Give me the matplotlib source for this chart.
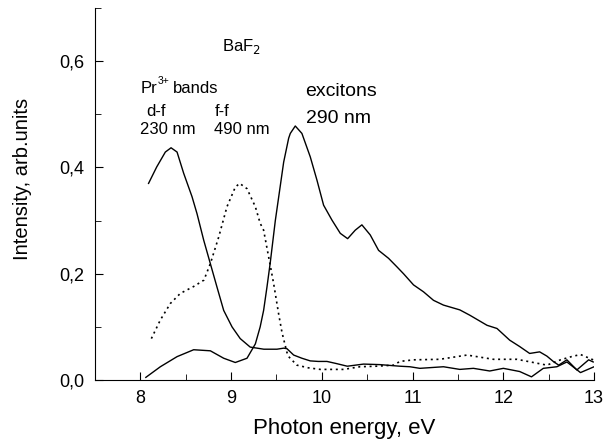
import matplotlib
matplotlib.use("Agg")
import matplotlib.pyplot as plt
from matplotlib.ticker import MultipleLocator, FuncFormatter

plt.rcParams['font.family'] = ['Liberation Sans', 'DejaVu Sans']

# d-f emission of Pr3+ (230 nm), solid
df_x = [8.09, 8.18, 8.275, 8.338, 8.404, 8.477, 8.569, 8.624, 8.698, 8.771, 8.844,
        8.918, 9.01, 9.10, 9.21, 9.36, 9.505, 9.58, 9.615, 9.689, 9.78, 9.872,
        9.96, 10.056, 10.16, 10.28, 10.37, 10.46, 10.64, 10.86, 10.97, 11.08, 11.34,
        11.52, 11.67, 11.85, 12.0, 12.18, 12.31, 12.44, 12.59, 12.70, 12.85, 13.0]
df_y = [0.370, 0.401, 0.429, 0.437, 0.429, 0.389, 0.345, 0.313, 0.263, 0.219, 0.175,
        0.131, 0.100, 0.078, 0.062, 0.058, 0.058, 0.060, 0.059, 0.047, 0.041, 0.036,
        0.035, 0.035, 0.031, 0.026, 0.028, 0.030, 0.029, 0.026, 0.025, 0.022, 0.025,
        0.020, 0.022, 0.017, 0.022, 0.016, 0.006, 0.022, 0.025, 0.034, 0.014, 0.025]

# f-f emission of Pr3+ (490 nm), dotted
ff_x = [8.121, 8.22, 8.33, 8.44, 8.587, 8.70, 8.771, 8.863, 8.954, 9.046, 9.094,
        9.175, 9.267, 9.32, 9.358, 9.413, 9.468, 9.523, 9.56, 9.58, 9.615, 9.634,
        9.725, 9.85, 9.982, 10.24, 10.42, 10.60, 10.79, 10.86, 11.01, 11.30, 11.60,
        11.89, 12.15, 12.33, 12.48, 12.63, 12.75, 12.85, 12.99]
ff_y = [0.078, 0.113, 0.144, 0.163, 0.176, 0.188, 0.219, 0.269, 0.326, 0.363, 0.370,
        0.360, 0.326, 0.295, 0.282, 0.232, 0.182, 0.125, 0.090, 0.076, 0.052, 0.044,
        0.028, 0.023, 0.020, 0.020, 0.025, 0.026, 0.028, 0.035, 0.038, 0.039, 0.047,
        0.039, 0.039, 0.033, 0.028, 0.038, 0.044, 0.048, 0.038]

# exciton emission (290 nm), solid
ex_x = [8.06, 8.22, 8.404, 8.587, 8.771, 8.918, 9.046, 9.175, 9.267, 9.32, 9.358,
        9.395, 9.432, 9.487, 9.579, 9.634, 9.652, 9.707, 9.780, 9.872, 9.946,
        10.019, 10.111, 10.203, 10.284, 10.368, 10.441, 10.533, 10.625, 10.735,
        10.827, 10.90, 11.01, 11.12, 11.23, 11.34, 11.52, 11.63, 11.82, 11.93, 12.07,
        12.18, 12.29, 12.40, 12.48, 12.55, 12.61, 12.70, 12.81, 12.94, 12.99]
ex_y = [0.005, 0.025, 0.044, 0.057, 0.055, 0.041, 0.033, 0.041, 0.068, 0.100, 0.131,
        0.175, 0.222, 0.300, 0.410, 0.455, 0.464, 0.478, 0.464, 0.420, 0.376,
        0.329, 0.301, 0.276, 0.266, 0.282, 0.292, 0.273, 0.244, 0.229, 0.213, 0.200,
        0.179, 0.166, 0.150, 0.141, 0.132, 0.122, 0.103, 0.097, 0.075, 0.063, 0.050,
        0.053, 0.045, 0.035, 0.028, 0.038, 0.019, 0.038, 0.034]

fig = plt.figure(figsize=(6.15, 4.45), dpi=100)
ax = fig.add_axes([0.1545, 0.146, 0.8115, 0.836])

ax.plot(df_x, df_y, color='black', lw=1.0)
ax.plot(ff_x, ff_y, color='black', lw=1.2, linestyle=(0, (1.2, 2.2)))
ax.plot(ex_x, ex_y, color='black', lw=1.0)

ax.set_xlim(7.5, 13.0)
ax.set_ylim(0, 0.7)
ax.spines['top'].set_visible(False)
ax.spines['right'].set_visible(False)
ax.xaxis.set_major_locator(MultipleLocator(1))
ax.xaxis.set_minor_locator(MultipleLocator(0.5))
ax.yaxis.set_major_locator(MultipleLocator(0.2))
ax.yaxis.set_minor_locator(MultipleLocator(0.1))
ax.yaxis.set_major_formatter(FuncFormatter(lambda v, p: f"{v:.1f}".replace('.', ',')))
ax.tick_params(which='both', direction='in', labelsize=13)
ax.tick_params(which='major', length=6)
ax.tick_params(which='minor', length=4)
ax.tick_params(axis='y', which='major', pad=8)
ax.tick_params(axis='x', which='major', pad=7)

ax.set_xlabel('Photon energy, eV', fontsize=16, labelpad=8)
ax.set_ylabel('Intensity, arb.units', fontsize=14.5)
ax.yaxis.set_label_coords(-0.126, 0.54)

ax.text(8.90, 0.628, 'BaF$_2$', fontsize=12, va='center')
ax.text(8.0, 0.549, 'Pr', fontsize=12, va='center')
ax.text(8.185, 0.562, '3+', fontsize=7.5, va='center')
ax.text(8.36, 0.549, 'bands', fontsize=12, va='center')
ax.text(8.06, 0.506, 'd-f', fontsize=12, va='center')
ax.text(8.0, 0.472, '230 nm', fontsize=12, va='center')
ax.text(8.82, 0.506, 'f-f', fontsize=12, va='center')
ax.text(8.81, 0.472, '490 nm', fontsize=12, va='center')
ax.text(9.82, 0.543, 'excitons', fontsize=14, va='center')
ax.text(9.82, 0.493, '290 nm', fontsize=14, va='center')

fig.savefig('out.png', dpi=100)
